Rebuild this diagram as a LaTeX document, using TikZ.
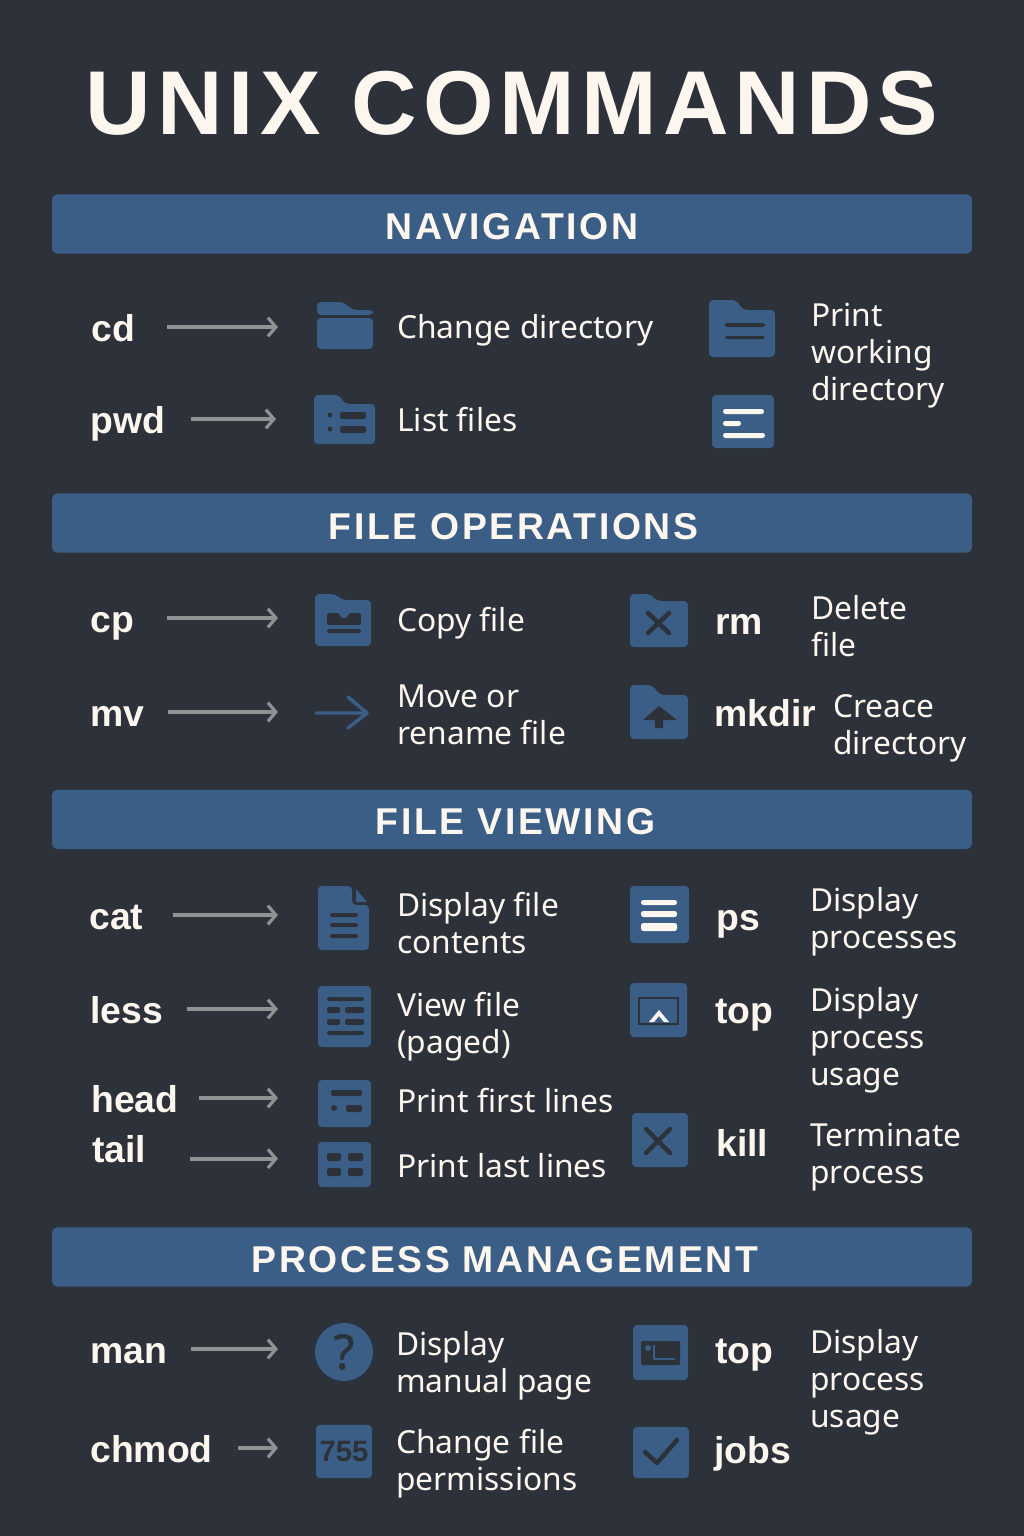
\documentclass[tikz,border=0pt]{standalone}
\usepackage{fontspec}
\setmainfont{Noto Sans}
\newfontfamily\headfont{Liberation Sans}
\usetikzlibrary{arrows.meta}
\definecolor{pagebg}{HTML}{2C313A}
\definecolor{iconblue}{HTML}{3B5E87}
\definecolor{creamtext}{HTML}{FDF6EE}
\definecolor{arrowgray}{HTML}{8F9193}
\tikzset{
  bigtitle/.style={inner sep=0pt,text=creamtext,font=\headfont\bfseries\fontsize{68}{70}\selectfont\addfontfeature{LetterSpace=6.7}},
  banner/.style={fill=iconblue,rounded corners=4pt,minimum width=690pt,minimum height=44.5pt,inner sep=0pt},
  bannertext/.style={anchor=base,inner sep=0pt,text=creamtext,font=\headfont\bfseries\fontsize{28}{30}\selectfont\addfontfeature{LetterSpace=7}},
  cmdlabel/.style={anchor=base west,inner sep=0pt,text height=21pt,text depth=0pt,text=creamtext,font=\headfont\bfseries\fontsize{28}{30}\selectfont},
  desclabel/.style={anchor=base west,inner sep=0pt,align=left,text=creamtext,font=\fontsize{23.8}{27.75}\selectfont},
  cmdarrow/.style={draw=arrowgray,line width=2.8pt,shorten >=28.5pt,-{Straight Barb[length=6pt,width=14pt,line width=2.4pt]}},
  iconshape/.style={fill=iconblue,rounded corners=3pt},
  iconcut/.style={fill=pagebg,rounded corners=1.2pt},
  iconwhite/.style={fill=creamtext,rounded corners=1.8pt},
  iconstroke/.style={draw=pagebg,line width=3.4pt,line cap=round,line join=round},
}
\begin{document}
\begin{tikzpicture}[x=0.75pt,y=-0.75pt]
\useasboundingbox (0,0) rectangle (1024,1536);
\fill[pagebg] (0,0) rectangle (1024,1536);
\node[bigtitle] (title) at (512,103) {UNIX COMMANDS};

\node[banner] (navbar) at (512,224) {};
\node[bannertext] (navtext) at (512,239) {NAVIGATION};
\node[banner] (filebar) at (512,523) {};
\node[bannertext] (filetext) at (513.5,539) {FILE OPERATIONS};
\node[banner] (viewbar) at (512,819.5) {};
\node[bannertext] (viewtext) at (515.5,834) {FILE VIEWING};
\node[banner] (procbar) at (512,1257) {};
\node[bannertext] (proctext) at (505,1272) {PROCESS MANAGEMENT};

% navigation
\node[cmdlabel] (cd) at (91,341) {cd};
\node[cmdlabel] (pwd) at (90,433) {pwd};
\coordinate (cdicon) at (316,325);
\coordinate (pwdicon) at (314,420);
\draw[cmdarrow,shorten <=24pt] (cd.east) -- (cd.east -| cdicon);
\draw[cmdarrow,shorten <=19pt] (pwd.east) -- (pwd.east -| pwdicon);
\fill[iconshape] (317,315) -- (317,302) -- (343,302) -- (353,310) -- (373,310) -- (373,315) -- cycle;
\fill[iconshape] (317,318) rectangle (373,349);
\fill[iconshape] (314,395) -- (339,395) -- (345,404) -- (375,404) -- (375,444) -- (314,444) -- cycle;
\fill[pagebg] (330,415) circle (2.5);
\fill[pagebg] (330,429) circle (2.5);
\fill[iconcut] (340,412) rectangle (366,419);
\fill[iconcut] (340,426) rectangle (366,433);
\node[desclabel] (cdtext) at (397,338) {Change directory};
\node[desclabel] (pwdtext) at (397,431) {List files};
\fill[iconshape] (709,300) -- (736,300) -- (743,310) -- (775,310) -- (775,357) -- (709,357) -- cycle;
\fill[iconcut] (725,323) rectangle (765,327);
\fill[iconcut] (725,336) rectangle (765,339);
\fill[iconshape] (712,395) rectangle (774,448);
\fill[iconwhite] (723,409) rectangle (764,414);
\fill[iconwhite] (723,421) rectangle (741,426);
\fill[iconwhite] (723,433) rectangle (765,438);
\node[desclabel] (printtext) at (811,400) {Print\\working\\directory};

% file operations
\node[cmdlabel] (cp) at (90,632) {cp};
\node[cmdlabel] (mv) at (90,726) {mv};
\coordinate (cpicon) at (316,621);
\coordinate (mvicon) at (316,713);
\draw[cmdarrow,shorten <=25pt] (cp.east) -- (cp.east -| cpicon);
\draw[cmdarrow,shorten <=18pt] (mv.east) -- (mv.east -| mvicon);
\fill[iconshape] (315,594) -- (335,594) -- (342,600) -- (371,600) -- (371,646) -- (315,646) -- cycle;
\fill[iconcut] (327,613) -- (339,613) -- (341,618) -- (347,618) -- (349,613) -- (361,613) -- (361,625) -- (327,625) -- cycle;
\fill[iconcut] (327,629) rectangle (361,633);
\node[desclabel] (cptext) at (397,631) {Copy file};
\coordinate (mvtip) at (367,713);
\draw[draw=iconblue,line width=2.6pt,line cap=round,line join=round] (mvicon) -- (mvtip) (348,697) -- (mvtip) -- (348,728);
\node[desclabel] (mvtext) at (397,744) {Move or\\rename file};
\fill[iconshape] (630,594) -- (650,594) -- (657,601) -- (688,601) -- (688,647) -- (630,647) -- cycle;
\draw[iconstroke] (648,613) -- (669,633) (669,613) -- (648,633);
\node[cmdlabel] (rm) at (715,634) {rm};
\node[desclabel] (rmtext) at (811,656) {Delete\\file};
\fill[iconshape] (630,685) -- (652,685) -- (660,695) -- (688,695) -- (688,739) -- (630,739) -- cycle;
\fill[pagebg] (659,706) -- (677,720) -- (663,720) -- (663,728) -- (655,728) -- (655,720) -- (643,720) -- cycle;
\node[cmdlabel] (mkdir) at (714,726) {mkdir};
\node[desclabel] (mkdirtext) at (833,754) {Creace\\directory};

% file viewing
\node[cmdlabel] (cat) at (89,929) {cat};
\node[cmdlabel] (less) at (90,1023) {less};
\node[cmdlabel] (head) at (91,1112) {head};
\node[cmdlabel] (tail) at (92,1162) {tail};
\coordinate (caticon) at (316,916);
\coordinate (lessicon) at (316,1010);
\coordinate (headicon) at (316,1100);
\coordinate (tailicon) at (316,1159);
\draw[cmdarrow,shorten <=22.5pt] (cat.east) -- (cat.east -| caticon);
\draw[cmdarrow,shorten <=18pt] (less.east) -- (less.east -| lessicon);
\draw[cmdarrow,shorten <=15.5pt] (head.east) -- (head.east -| headicon);
\draw[cmdarrow,shorten <=33pt] ([yshift=-8pt]tail.east) -- ([yshift=-8pt]tail.east -| tailicon);
\fill[iconshape] (318,886) -- (352,886) -- (352,905) -- (369,905) -- (369,950) -- (318,950) -- cycle;
\fill[iconblue] (356,889) -- (367,902) -- (356,902) -- cycle;
\fill[iconcut] (330,913) rectangle (358,917);
\fill[iconcut] (330,923) rectangle (358,927);
\fill[iconcut] (330,934) rectangle (358,938);
\node[desclabel] (cattext) at (397,953) {Display file\\contents};
\fill[iconshape] (318,986) rectangle (371,1047);
\fill[iconcut] (327,997) rectangle (364,1001);
\fill[iconcut] (327,1007) rectangle (340,1013);
\fill[iconcut] (345,1007) rectangle (364,1013);
\fill[iconcut] (327,1019) rectangle (340,1025);
\fill[iconcut] (345,1019) rectangle (364,1025);
\fill[iconcut] (327,1031) rectangle (364,1035);
\node[desclabel] (lesstext) at (397,1053) {View file\\(paged)};
\fill[iconshape] (318,1080) rectangle (371,1127);
\fill[iconcut] (331,1090) rectangle (362,1096);
\fill[pagebg] (334,1108) circle (3);
\fill[iconcut] (346,1105) rectangle (362,1112);
\node[desclabel] (headtext) at (397,1112) {Print first lines};
\fill[iconshape] (318,1142) rectangle (371,1187);
\fill[iconcut] (327,1153) rectangle (341,1161);
\fill[iconcut] (348,1153) rectangle (363,1161);
\fill[iconcut] (327,1168) rectangle (341,1176);
\fill[iconcut] (348,1168) rectangle (363,1176);
\node[desclabel] (tailtext) at (397,1177) {Print last lines};
\fill[iconshape] (630,886) rectangle (689,943);
\fill[iconwhite] (641,900) rectangle (677,905);
\fill[iconwhite] (641,911) rectangle (677,917);
\fill[iconwhite] (641,923) rectangle (677,931);
\node[cmdlabel] (ps) at (716,930) {ps};
\node[desclabel] (pstext) at (810,948) {Display\\processes};
\fill[iconshape] (630,983) rectangle (687,1037);
\draw[draw=pagebg,line width=2.2pt] (639,998) rectangle (678,1024);
\fill[creamtext] (659,1010) -- (669,1022) -- (664,1022) -- (659,1016) -- (654,1022) -- (649,1022) -- cycle;
\node[cmdlabel] (top) at (715,1023) {top};
\node[desclabel] (toptext) at (810,1085) {Display\\process\\usage};
\fill[iconshape] (632,1113) rectangle (688,1167);
\draw[iconstroke] (646,1129) -- (670,1153) (670,1129) -- (646,1153);
\node[cmdlabel] (kill) at (716,1156) {kill};
\node[desclabel] (killtext) at (810,1183) {Terminate\\process};

% process management
\node[cmdlabel] (man) at (90,1363) {man};
\node[cmdlabel] (chmod) at (90,1462) {chmod};
\coordinate (manicon) at (316,1350);
\coordinate (chmodicon) at (316,1450);
\draw[cmdarrow,shorten <=18pt] (man.east) -- (man.east -| manicon);
\draw[cmdarrow,shorten <=19pt] (chmod.east) -- (chmod.east -| chmodicon);
\node[circle,fill=iconblue,minimum size=43.5pt,inner sep=0pt,text=pagebg,font=\fontsize{36}{38}\selectfont\addfontfeature{FakeBold=1}] (manmark) at (344,1352) {?};
\node[desclabel] (mantext) at (396,1392) {Display\\manual page};
\node[rounded corners=3pt,fill=iconblue,minimum width=42pt,minimum height=40pt,inner sep=0pt,text=pagebg,font=\headfont\bfseries\fontsize{22}{25}\selectfont] (chmodmark) at (344,1451.5) {755};
\node[desclabel] (chmodtext) at (396,1490) {Change file\\permissions};
\fill[iconshape] (633,1325) rectangle (688,1380);
\fill[pagebg,rounded corners=1pt] (641,1341) rectangle (680,1365);
\fill[iconblue] (648,1348) circle (3);
\draw[draw=iconblue,line width=2pt,line join=round] (654,1345) -- (654,1359) -- (675,1359);
\node[cmdlabel] (top2) at (715,1363) {top};
\node[desclabel] (top2text) at (810,1427) {Display\\process\\usage};
\fill[iconshape] (633,1427) rectangle (689,1478);
\draw[iconstroke] (645,1452) -- (657,1463) -- (677,1440);
\node[cmdlabel] (jobs) at (714,1463) {jobs};
\end{tikzpicture}
\end{document}
